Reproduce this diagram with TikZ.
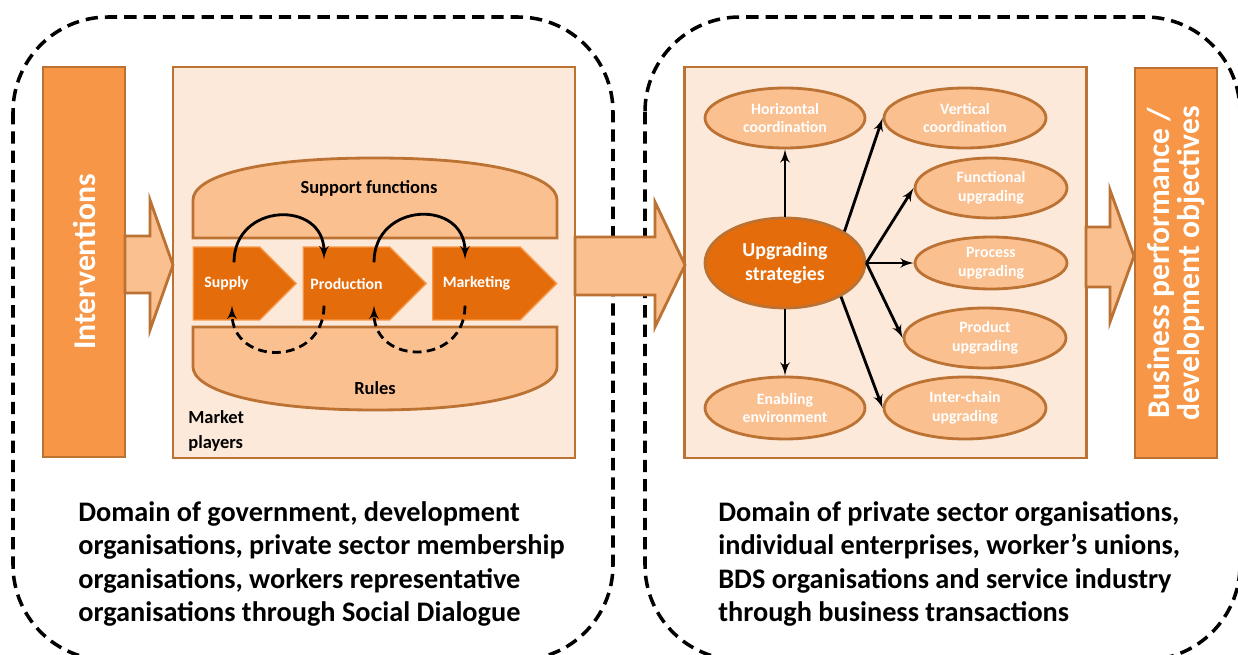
\documentclass[tikz,border=0pt]{standalone}
\usepackage{fontspec}
\setmainfont{Carlito}
\usetikzlibrary{arrows,calc,shapes.geometric,shapes.symbols}
\definecolor{vcdark}{HTML}{E46C0A}
\definecolor{vcbar}{HTML}{F79646}
\definecolor{vclight}{HTML}{FAC090}
\definecolor{vcpale}{HTML}{FDE9D9}
\definecolor{vcedge}{HTML}{BC7233}
\begin{document}
\begin{tikzpicture}[x=0.02cm,y=0.02cm]
    \tikzset{realm/.style = {draw=black, line width=2pt, dash pattern=on 7pt off 4pt, rounded corners=1.9cm}}
    \tikzset{bar/.style = {draw=vcedge, fill=vcbar, line width=1.6pt, rotate=90, minimum width=7.8cm, minimum height=1.64cm, inner sep=0pt, text=white, align=center, font=\fontsize{18}{17.5}\selectfont\bfseries}}
    \tikzset{panel/.style = {draw=vcedge, fill=vcpale, line width=1.6pt, minimum width=8.04cm, minimum height=7.82cm, inner sep=0pt}}
    \tikzset{flow/.style = {draw=vcedge, fill=vclight, line width=1.6pt}}
    \tikzset{layer/.style = {draw=vcedge, fill=vclight, line width=1.6pt}}
    \tikzset{stage/.style = {shape=signal, signal to=east, signal from=nowhere, draw=vcbar, fill=vcdark, line width=0.8pt, minimum height=1.46cm, inner sep=0pt, text=white, font=\fontsize{9}{10}\selectfont\bfseries}}
    \tikzset{goal/.style = {ellipse, draw=vcedge, fill=vclight, line width=1.6pt, inner sep=0pt, text=white, align=center, font=\fontsize{9}{10.8}\selectfont\bfseries}}
    \tikzset{edge/.style = {->, > = latex', line width=1.6pt}}
    \useasboundingbox (0,0) rectangle (1238,-655);
    \draw[realm] (13,-17) rectangle (613,-660);
    \draw[realm] (645,-17) rectangle (1240,-660);
    \node[bar] (interv) at (84,-262) {Interventions};
    \node[bar] (perf) at (1176,-263) {Business performance /\\development objectives};
    \node[panel] (market) at (374,-262.5) {};
    \node[panel] (strat) at (885.5,-262.5) {};
    \draw[flow] (125,-236) -- (150,-236) -- (150,-200) -- (173,-265) -- (150,-330) -- (150,-293) -- (125,-293) -- cycle;
    \draw[flow] (575,-237) -- (655,-237) -- (655,-202) -- (685,-265) -- (655,-327) -- (655,-295) -- (575,-295) -- cycle;
    \draw[flow] (1086,-227) -- (1110,-227) -- (1110,-190) -- (1134,-256) -- (1110,-322) -- (1110,-287) -- (1086,-287) -- cycle;
    % market system
    \draw[layer] (193,-238) -- (193,-200) .. controls (193,-178) and (250,-158) .. (375,-158) .. controls (500,-158) and (557,-178) .. (557,-200) -- (557,-238) -- cycle;
    \draw[layer] (193,-327) -- (557,-327) -- (557,-367) .. controls (557,-388) and (500,-410) .. (375,-410) .. controls (250,-410) and (193,-388) .. (193,-367) -- cycle;
    \node[font=\fontsize{10.5}{12}\selectfont\bfseries] (support) at (369,-188) {Support functions};
    \node[font=\fontsize{10.5}{12}\selectfont\bfseries] (rules) at (375,-388) {Rules};
    \node[align=left, anchor=west, inner sep=0pt, font=\fontsize{10.5}{14.5}\selectfont\bfseries] (players) at (188,-431) {Market\\players};
    \node[stage, minimum width=2.06cm] (supply) at (226.5,-283.5) {Supply};
    \node[stage, minimum width=2.46cm] (prod) at (346.5,-283.5) {Production};
    \node[stage, minimum width=2.48cm] (mark) at (476.5,-283.5) {Marketing};
    \draw[edge] ($(supply.north)+(7.5,-16)$) to[out=90, in=90, looseness=1.7] ($(prod.north)+(-22.5,-13)$);
    \draw[edge] ($(prod.north)+(27.5,-16)$) to[out=90, in=90, looseness=1.7] ($(mark.north)+(-11.5,-13)$);
    \draw[edge, dash pattern=on 5pt off 3pt] ($(prod.south)+(-22.5,15)$) to[out=-90, in=-90, looseness=1.7] ($(supply.south)+(5.5,15)$);
    \draw[edge, dash pattern=on 5pt off 3pt] ($(mark.south)+(-11.5,15)$) to[out=-90, in=-90, looseness=1.7] ($(prod.south)+(27.5,15)$);
    % upgrading strategies
    \node[goal, fill=vcdark, minimum width=3.2cm, minimum height=1.8cm, font=\fontsize{11.3}{13.5}\selectfont\bfseries] (us) at (785,-263) {Upgrading\\strategies};
    \node[goal, minimum width=3.2cm, minimum height=1.2cm] (hor) at (785,-118) {Horizontal\\coordination};
    \node[goal, minimum width=3.24cm, minimum height=1.2cm] (vert) at (965,-118) {Vertical\\coordination};
    \node[goal, minimum width=3.04cm, minimum height=1.2cm] (func) at (991,-188) {Functional\\upgrading};
    \node[goal, minimum width=3.04cm, minimum height=1.04cm] (proc) at (991,-263) {Process\\upgrading};
    \node[goal, minimum width=3.24cm, minimum height=1.2cm] (produp) at (985,-338) {Product\\upgrading};
    \node[goal, minimum width=3.24cm, minimum height=1.24cm] (inter) at (965,-408) {Inter-chain\\upgrading};
    \node[goal, minimum width=3.2cm, minimum height=1.24cm] (enab) at (785,-408) {Enabling\\environment};
    \draw[edge] (us.north) to (hor.south);
    \draw[edge] (us.south) to (enab.north);
    \draw[edge] (us.28) to (vert.west);
    \draw[edge] (us.east) to (func.west);
    \draw[edge] (us.east) to (proc.west);
    \draw[edge] (us.east) to (produp.west);
    \draw[edge] (us.-31) to (inter.west);
    % domains
    \node[align=left, anchor=west, inner sep=0pt, font=\fontsize{16.1}{19}\selectfont\bfseries] (gov) at (78,-564) {Domain of government, development\\organisations, private sector membership\\organisations, workers representative\\organisations through Social Dialogue};
    \node[align=left, anchor=west, inner sep=0pt, font=\fontsize{16.1}{19}\selectfont\bfseries] (priv) at (718,-564) {Domain of private sector organisations,\\individual enterprises, worker’s unions,\\BDS organisations and service industry\\through business transactions};
\end{tikzpicture}
\end{document}
